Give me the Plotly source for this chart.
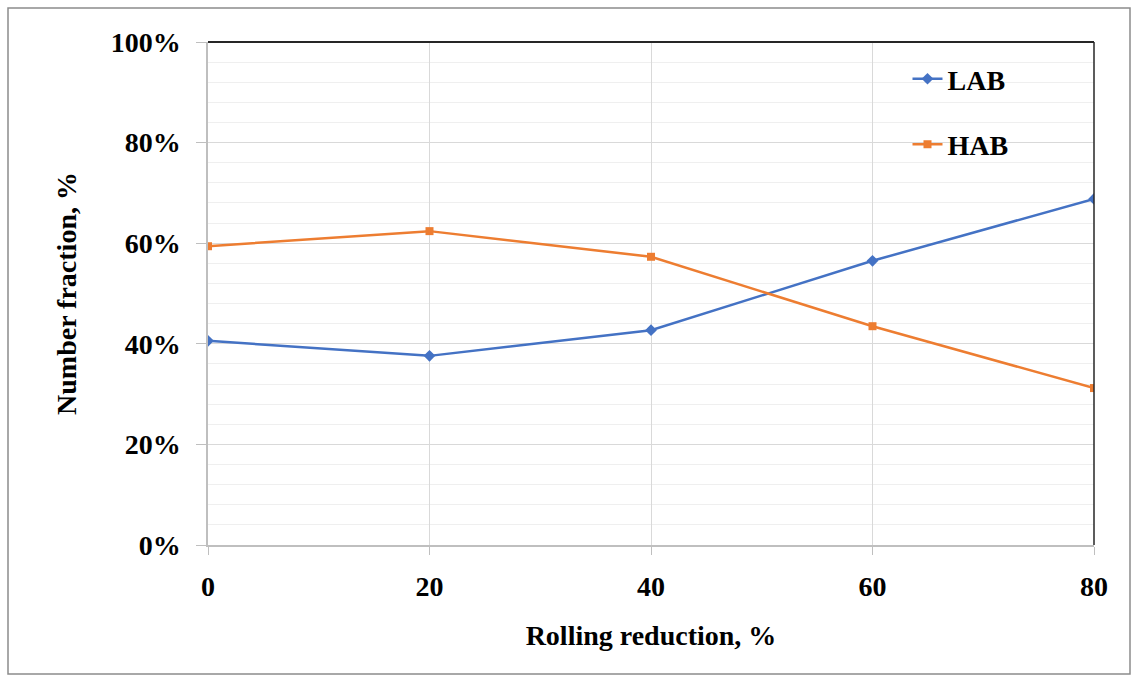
import plotly.graph_objects as go

reduction = [0, 20, 40, 60, 80]
lab = [0.406, 0.376, 0.427, 0.565, 0.688]
hab = [0.594, 0.624, 0.573, 0.435, 0.312]
y_ticks = [0, 0.2, 0.4, 0.6, 0.8, 1.0]
y_ticklabels = ["0%", "20%", "40%", "60%", "80%", "100%"]

FONT = "Liberation Serif"

fig = go.Figure()
fig.add_trace(go.Scatter(
    x=reduction, y=lab, mode="lines+markers", name="LAB",
    line=dict(color="#4472C4", width=2.5),
    marker=dict(symbol="diamond", size=9, color="#4472C4"),
    legendgroup="a",
))
fig.add_trace(go.Scatter(
    x=reduction, y=hab, mode="lines+markers", name="HAB",
    line=dict(color="#ED7D31", width=2.5),
    marker=dict(symbol="square", size=8, color="#ED7D31"),
    legendgroup="b",
))

fig.update_layout(
    width=1134, height=681,
    margin=dict(l=208, r=40, t=42, b=136),
    paper_bgcolor="white", plot_bgcolor="white",
    font=dict(family=FONT, size=28, color="black"),
    showlegend=True,
    legend=dict(
        x=0.7895, y=0.976, xanchor="left", yanchor="top",
        bgcolor="rgba(0,0,0,0)",
        font=dict(family=FONT, size=28, color="black", weight="bold"),
        traceorder="grouped", tracegroupgap=26,
        itemwidth=30,
    ),
    xaxis=dict(
        range=[0, 80], tickvals=reduction, ticktext=[str(v) for v in reduction],
        showgrid=True, gridcolor="#d9d9d9", gridwidth=1,
        showline=True, linecolor="#bfbfbf", linewidth=1.5,
        ticks="outside", ticklen=8, tickcolor="#bfbfbf",
        ticklabelstandoff=8,
        tickfont=dict(family=FONT, size=28, weight="bold"),
        title=dict(text="<b>Rolling reduction, %</b>", standoff=24,
                   font=dict(family=FONT, size=28)),
        zeroline=False,
    ),
    yaxis=dict(
        range=[0, 1], tickvals=y_ticks, ticktext=y_ticklabels,
        showgrid=True, gridcolor="#d9d9d9", gridwidth=1,
        minor=dict(dtick=0.04, showgrid=True, gridcolor="#efefef", gridwidth=1),
        showline=True, linecolor="#bfbfbf", linewidth=1.5,
        ticks="outside", ticklen=10, tickcolor="#bfbfbf",
        ticklabelstandoff=10,
        tickfont=dict(family=FONT, size=28, weight="bold"),
        title=dict(text="<b>Number fraction, %</b>", standoff=26,
                   font=dict(family=FONT, size=28)),
        zeroline=False,
    ),
    shapes=[
        dict(type="line", xref="paper", yref="paper", x0=0, x1=1, y0=1, y1=1,
             line=dict(color="#262626", width=2)),
        dict(type="line", xref="paper", yref="paper", x0=1, x1=1, y0=0, y1=1,
             line=dict(color="#262626", width=1.5)),
        dict(type="rect", xref="paper", yref="paper",
             x0=(8 - 208) / 886, x1=(1130 - 208) / 886,
             y0=(545 - 674) / 503, y1=(545 - 8) / 503,
             line=dict(color="#8c8c8c", width=1.5), layer="below"),
    ],
)

fig.write_html("out.html", config={"displayModeBar": False})
with open("out.html", "r", encoding="utf-8") as f:
    html = f.read()
html = html.replace("<body>", '<body style="margin:0;padding:0;">', 1)
html = html.replace("<head>", '<head><style>html,body{margin:0;padding:0;overflow:hidden;}</style>', 1)
with open("out.html", "w", encoding="utf-8") as f:
    f.write(html)
